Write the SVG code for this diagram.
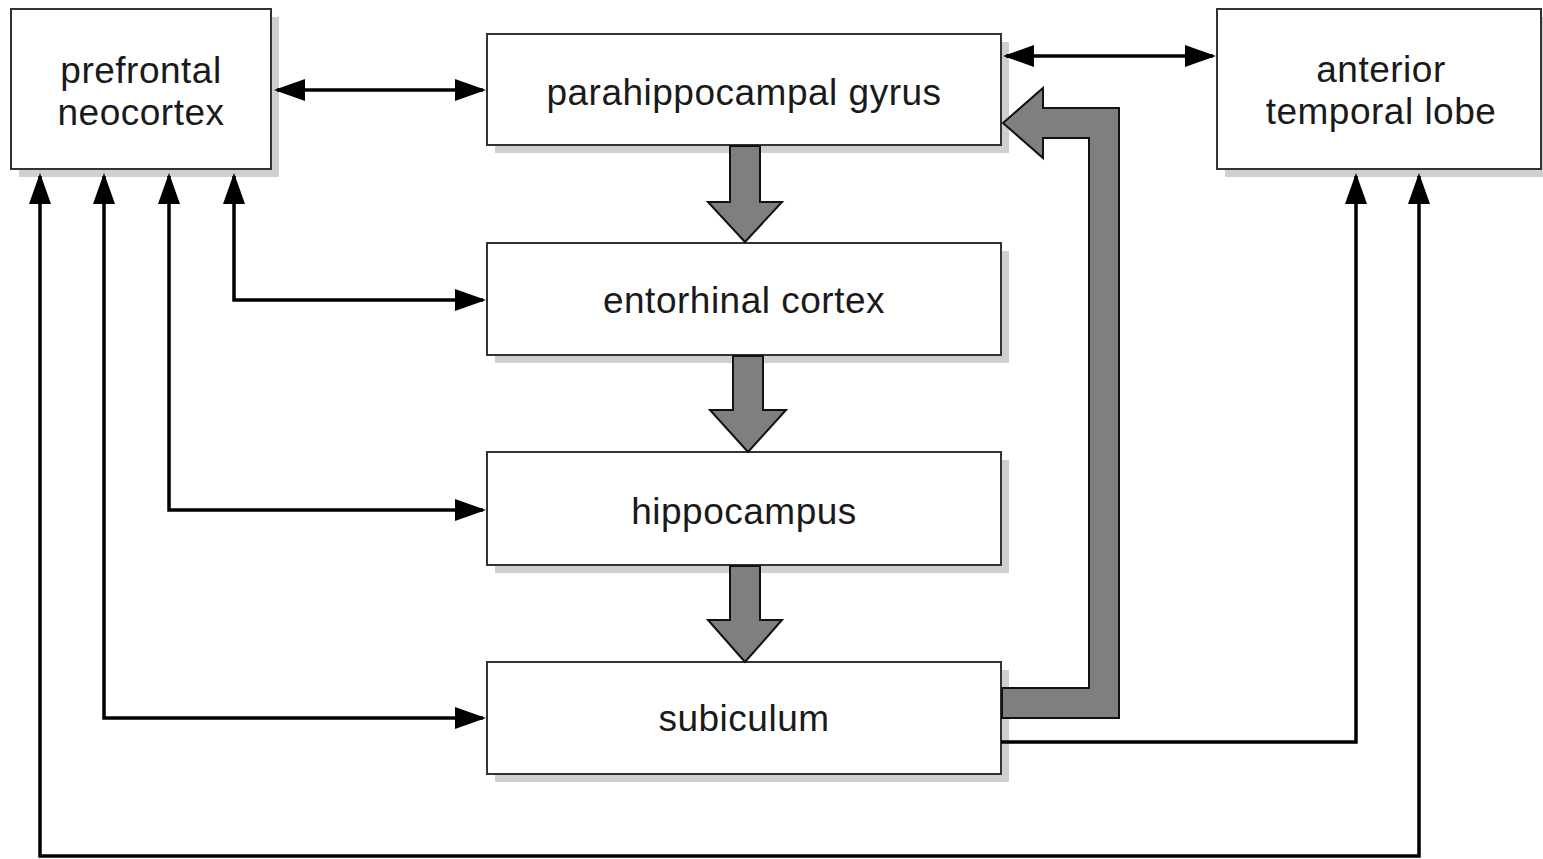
<svg xmlns="http://www.w3.org/2000/svg" width="1543" height="859" viewBox="0 0 1543 859">
<style>
.box{fill:#ffffff;stroke:#333333;stroke-width:2}
.shadow{fill:#cfcfcf}
.lbl{font-family:"Liberation Sans",Arial,sans-serif;font-size:37px;letter-spacing:0.5px;fill:#1a1a1a;text-anchor:middle}
.conn{fill:none;stroke:#000000;stroke-width:3.5}
.big{fill:#7f7f7f;stroke:#111111;stroke-width:2;stroke-linejoin:miter}
</style>
<defs>
<marker id="ah" viewBox="0 0 31 22" refX="28" refY="11" markerWidth="31" markerHeight="22" markerUnits="userSpaceOnUse" orient="auto-start-reverse">
<path d="M0,0 L31,11 L0,22 z" fill="#000000"/>
</marker>
</defs>
<rect width="1543" height="859" fill="#ffffff"/>

<g id="node-prefrontal">
<rect class="shadow" x="19" y="17" width="260" height="160"/>
<rect class="box" x="11" y="9" width="260" height="160"/>
<text class="lbl" x="141" y="83">prefrontal</text>
<text class="lbl" x="141" y="125">neocortex</text>
</g>
<g id="node-parahippocampal">
<rect class="shadow" x="495" y="42" width="514" height="111"/>
<rect class="box" x="487" y="34" width="514" height="111"/>
<text class="lbl" x="744" y="105">parahippocampal gyrus</text>
</g>
<g id="node-entorhinal">
<rect class="shadow" x="495" y="251" width="514" height="112"/>
<rect class="box" x="487" y="243" width="514" height="112"/>
<text class="lbl" x="744" y="313">entorhinal cortex</text>
</g>
<g id="node-hippocampus">
<rect class="shadow" x="495" y="460" width="514" height="113"/>
<rect class="box" x="487" y="452" width="514" height="113"/>
<text class="lbl" x="744" y="524">hippocampus</text>
</g>
<g id="node-subiculum">
<rect class="shadow" x="495" y="670" width="514" height="112"/>
<rect class="box" x="487" y="662" width="514" height="112"/>
<text class="lbl" x="744" y="731">subiculum</text>
</g>
<g id="node-anterior-temporal">
<rect class="shadow" x="1225" y="17" width="324" height="160"/>
<rect class="box" x="1217" y="9" width="324" height="160"/>
<text class="lbl" x="1381" y="82">anterior</text>
<text class="lbl" x="1381" y="124">temporal lobe</text>
</g>

<g id="connectors">
<path class="conn" d="M277,90 H483" marker-start="url(#ah)" marker-end="url(#ah)"/>
<path class="conn" d="M1006,56 H1213" marker-start="url(#ah)" marker-end="url(#ah)"/>
<path class="conn" d="M483,300 H234 V176" marker-start="url(#ah)" marker-end="url(#ah)"/>
<path class="conn" d="M483,510 H169 V176" marker-start="url(#ah)" marker-end="url(#ah)"/>
<path class="conn" d="M483,718 H104 V176" marker-start="url(#ah)" marker-end="url(#ah)"/>
<path class="conn" d="M40,176 V856 H1419 V176" marker-start="url(#ah)" marker-end="url(#ah)"/>
<path class="conn" d="M1001,742 H1356 V176" marker-end="url(#ah)"/>
<polygon class="big" points="730,146 760,146 760,202 782,202 745,242 708,202 730,202"/>
<polygon class="big" points="733,356 763,356 763,410 786,410 748,452 710,410 733,410"/>
<polygon class="big" points="730,566 760,566 760,620 782,620 745,662 708,620 730,620"/>
<polygon class="big" points="1002,688 1089,688 1089,138 1043,138 1043,158 1003,123 1043,88 1043,108 1119,108 1119,718 1002,718"/>
</g>
</svg>
